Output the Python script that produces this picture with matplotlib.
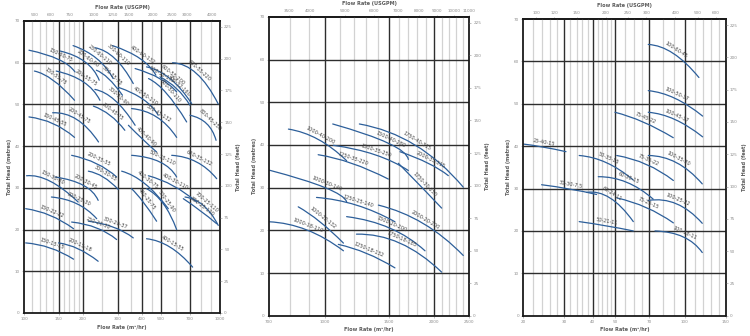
import matplotlib
matplotlib.use("Agg")
import matplotlib.pyplot as plt
import numpy as np
from matplotlib.ticker import FixedLocator, NullLocator, FixedFormatter
from matplotlib.path import Path
from matplotlib.patches import PathPatch

GPM = 4.403    # USGPM per m3/hr
FT = 3.2808    # feet per metre

# ---- panel 1 (100 - 1000 m3/hr)
p1_names = ["150-60-75", "150-55-75", "150-45-55", "200-60-90", "200-55-75", "200-45-75",
            "250-60-110", "300-60-110", "300-55-75", "300-50-90", "300-45-75", "400-60-132",
            "500-55-132", "400-50-110", "600-55-200", "450-52-160", "600-50-110", "500-45-132",
            "600-55-220", "800-45-250", "400-40-90", "200-35-55", "300-30-55", "500-35-110",
            "600-35-132", "150-30-30", "200-30-45", "200-25-30", "150-22-22", "300-20-37",
            "250-20-30", "150-15-15", "200-15-18", "400-15-55", "400-30-75", "400-25-75",
            "500-25-90", "400-30-110", "700-25-110", "800-25-110"]
p1_flow = [[106, 150, 182], [113, 141, 181], [106, 141, 181], [153, 205, 242], [146, 201, 244],
           [140, 186, 240], [178, 235, 285], [230, 291, 361], [234, 270, 318], [230, 291, 369],
           [226, 275, 327], [283, 391, 471], [369, 494, 601], [303, 406, 484], [422, 556, 717],
           [494, 601, 703], [432, 535, 676], [354, 475, 601], [573, 760, 980], [703, 855, 955],
           [341, 406, 475], [175, 235, 297], [213, 254, 303], [354, 494, 601], [567, 760, 962],
           [103, 136, 189], [144, 201, 239], [138, 186, 235], [102, 136, 179], [213, 286, 361],
           [175, 235, 297], [102, 136, 179], [150, 189, 239], [422, 556, 725], [315, 414, 545],
           [354, 406, 475], [422, 514, 601], [431, 578, 760], [663, 822, 980], [650, 790, 962]]
p1_head = [[63.0, 60.8, 57.8], [58.0, 55.8, 51.0], [47.0, 45.4, 42.1], [62.8, 60.2, 55.8], [58.0, 55.4, 51.0],
           [48.0, 46.4, 41.0], [64.1, 61.0, 56.2], [63.6, 61.0, 55.0], [58.2, 56.2, 52.2], [53.6, 51.0, 45.0],
           [49.6, 47.4, 43.8], [64.1, 61.0, 57.0], [58.6, 56.2, 53.0], [54.1, 51.2, 47.4], [59.0, 56.2, 50.2],
           [56.6, 53.8, 49.8], [56.2, 52.6, 45.8], [49.0, 47.0, 42.1], [60.0, 57.4, 50.1], [47.4, 45.4, 41.4],
           [45.0, 41.5, 38.6], [37.8, 35.8, 32.6], [34.0, 32.6, 29.6], [37.8, 36.2, 32.6], [37.8, 36.2, 32.2],
           [32.9, 31.6, 26.6], [32.6, 30.6, 27.0], [27.8, 26.2, 22.6], [25.0, 23.4, 20.2], [22.0, 20.6, 18.0],
           [21.8, 20.4, 17.6], [16.8, 15.6, 12.9], [16.8, 15.4, 12.4], [17.8, 15.8, 11.0], [34.0, 31.0, 25.0],
           [29.8, 26.6, 22.0], [29.8, 26.2, 20.0], [32.9, 30.5, 26.6], [27.8, 25.8, 21.0], [27.4, 24.6, 21.4]]
p1_xticks = [100, 150, 200, 300, 400, 500, 700, 1000]
p1_minor = [110, 120, 130, 140, 160, 170, 180, 190, 250, 350, 450, 600, 800, 900]
p1_gpm = [500, 600, 750, 1000, 1250, 1500, 2000, 2500, 3000, 4000]

# ---- panel 2 (700 - 2500 m3/hr)
p2_names = ["1000-40-200", "1500-40-280", "1750-40-315", "2000-35-315", "1250-35-220",
            "1500-35-250", "1750-30-250", "1000-30-140", "1250-25-140", "1000-22-132",
            "1000-18-110", "1250-18-132", "1500-20-200", "1750-18-185", "2000-20-200"]
p2_flow = [[792, 957, 1147], [1050, 1496, 1699], [1244, 1772, 2410], [1611, 1929, 2191], [957, 1185, 1496],
           [1054, 1374, 1699], [1594, 1849, 2100], [700, 1000, 1147], [947, 1221, 1560], [843, 968, 1124],
           [700, 890, 1124], [1088, 1303, 1560], [1147, 1512, 1889], [1221, 1611, 2100], [1404, 1868, 2410]]
p2_head = [[43.7, 41.3, 36.3], [44.9, 40.4, 36.6], [44.9, 40.0, 30.1], [38.4, 35.7, 32.8], [37.7, 35.7, 32.0],
           [39.9, 37.7, 34.0], [35.7, 30.1, 25.2], [34.1, 30.0, 26.7], [27.7, 25.9, 22.0], [25.5, 22.0, 17.0],
           [22.0, 20.1, 15.2], [16.7, 14.6, 11.2], [23.2, 20.5, 15.2], [19.1, 17.0, 10.2], [25.9, 21.6, 14.1]]
p2_xticks = [700, 1000, 1500, 2000, 2500]
p2_minor = [800, 900, 1100, 1200, 1300, 1400, 1600, 1700, 1800, 1900, 2100, 2200, 2300, 2400]
p2_gpm = [3500, 4000, 5000, 6000, 7000, 8000, 9000, 10000, 11000]

# ---- panel 3 (20 - 150 m3/hr)
p3_names = ["25-40-15", "50-35-15", "75-35-22", "100-35-30", "60-30-15", "30-30-7.5", "60-24-11",
            "75-25-15", "100-25-22", "50-21-11", "100-18-11", "100-60-45", "100-50-37", "100-45-37",
            "75-45-22"]
p3_flow = [[20, 24.4, 30.6], [34.9, 45.8, 59.8], [50.7, 68.2, 89.1], [69.4, 92, 118.8], [42.2, 55.9, 72.9],
           [24.0, 31.8, 41.5], [37.6, 47.4, 59.8], [50.7, 68.2, 89.1], [69.4, 92, 118.8], [34.9, 45.8, 59.8],
           [74.2, 98.3, 118.8], [69.4, 89.0, 114.9], [69.4, 90.5, 119.2], [69.4, 90.5, 119.2], [49.8, 66.0, 89.0]]
p3_head = [[40.5, 39.8, 38.7], [37.8, 36.1, 32.0], [37.8, 35.7, 31.9], [37.8, 36.1, 31.1], [32.8, 31.5, 27.5],
           [30.9, 29.9, 28.6], [29.1, 27.8, 22.2], [27.8, 25.5, 21.9], [27.2, 26.4, 21.8], [22.2, 21.2, 20.0],
           [20.0, 18.6, 14.9], [64.0, 61.9, 56.2], [53.1, 51.3, 47.1], [48.0, 46.3, 42.2], [48.0, 45.7, 42.0]]
p3_xticks = [20, 30, 40, 50, 70, 100, 150]
p3_minor = [22, 24, 26, 28, 32, 34, 36, 38, 42, 44, 46, 48, 55, 60, 65, 80, 90, 110, 120, 130, 140]
p3_gpm = [100, 120, 150, 200, 250, 300, 400, 500, 600]

BLUE = '#2d5f9a'
TXT = '#5a5a5a'
TICK = '#8c8c8c'

fig = plt.figure(figsize=(7.5, 3.36), dpi=100)


def curve_path(xs, ys):
    # smooth arc through start / middle / end (x is on a log axis)
    lx = np.log10(xs)
    cx = 10 ** (2 * lx[1] - (lx[0] + lx[2]) / 2)
    cy = 2 * ys[1] - (ys[0] + ys[2]) / 2
    return Path([(xs[0], ys[0]), (cx, cy), (xs[2], ys[2])],
                [Path.MOVETO, Path.CURVE3, Path.CURVE3])


def draw_panel(rect, xlim, names, flow, head, xticks, minor, gpm_ticks):
    ax = fig.add_axes(rect)
    ax.set_xscale('log')
    ax.set_xlim(*xlim)
    ax.set_ylim(0, 70)

    for v in minor:
        ax.axvline(v, color='#d2d2d2', lw=0.9, zorder=1)
    for v in xticks[1:-1]:
        ax.axvline(v, color='#2e2e2e', lw=1.0, zorder=2)
    for h in range(10, 70, 10):
        ax.axhline(h, color='#2e2e2e', lw=1.0, zorder=2)

    ax.xaxis.set_major_locator(FixedLocator(xticks))
    ax.xaxis.set_major_formatter(FixedFormatter([str(t) for t in xticks]))
    ax.xaxis.set_minor_locator(NullLocator())
    ax.set_yticks(range(0, 71, 10))
    ax.tick_params(labelsize=3, colors=TICK, length=1.5, width=0.4, pad=1.5)
    for s in ax.spines.values():
        s.set_color('#1a1a1a')
        s.set_linewidth(1.3)
        s.set_zorder(6)
    ax.set_xlabel('Flow Rate (m³/hr)', fontsize=3.6, color=TXT, fontweight='bold', labelpad=2.5)
    ax.set_ylabel('Total Head (metres)', fontsize=3.6, color=TXT, fontweight='bold', labelpad=2)

    # pump curves + labels
    for xs, ys, name in zip(flow, head, names):
        ax.add_patch(PathPatch(curve_path(xs, ys), fill=False, edgecolor=BLUE,
                               lw=0.9, zorder=4, capstyle='round'))
        p0 = ax.transData.transform((xs[0], ys[0]))
        p2 = ax.transData.transform((xs[-1], ys[-1]))
        ang = np.arctan2(p2[1] - p0[1], p2[0] - p0[0])
        off = 3.2
        ax.annotate(name, (xs[1], ys[1]), xytext=(-off * np.sin(ang), off * np.cos(ang)),
                    textcoords='offset points', rotation=np.degrees(ang),
                    rotation_mode='anchor', ha='center', va='center',
                    fontsize=3.6, color='#444444', zorder=5)

    # feet on the right
    ay = ax.twinx()
    ay.set_ylim(0, 70 * FT)
    ay.set_yticks(range(0, 226, 25))
    ay.tick_params(labelsize=3, colors=TICK, length=1.5, width=0.4, pad=1.5)
    for s in ay.spines.values():
        s.set_visible(False)
    ay.set_ylabel('Total Head (feet)', fontsize=3.6, color=TXT, fontweight='bold', labelpad=3)

    # USGPM on top
    top = ax.secondary_xaxis('top', functions=(lambda q: q * GPM, lambda g: g / GPM))
    top.xaxis.set_major_locator(FixedLocator(gpm_ticks))
    top.xaxis.set_major_formatter(FixedFormatter([str(t) for t in gpm_ticks]))
    top.xaxis.set_minor_locator(NullLocator())
    top.tick_params(labelsize=3, colors=TICK, length=1.5, width=0.4, pad=1.5)
    top.spines['top'].set_color('#1a1a1a')
    top.spines['top'].set_linewidth(1.3)
    top.set_xlabel('Flow Rate (USGPM)', fontsize=3.6, color=TXT, fontweight='bold', labelpad=2.5)
    return ax


draw_panel([0.032, 0.0685, 0.2613, 0.869], (100, 1000), p1_names, p1_flow, p1_head,
           p1_xticks, p1_minor, p1_gpm)
draw_panel([0.3587, 0.0604, 0.2667, 0.8896], (700, 2500), p2_names, p2_flow, p2_head,
           p2_xticks, p2_minor, p2_gpm)
draw_panel([0.6977, 0.0604, 0.2699, 0.883], (20, 150), p3_names, p3_flow, p3_head,
           p3_xticks, p3_minor, p3_gpm)

fig.savefig('out.png', dpi=100, facecolor='white')
